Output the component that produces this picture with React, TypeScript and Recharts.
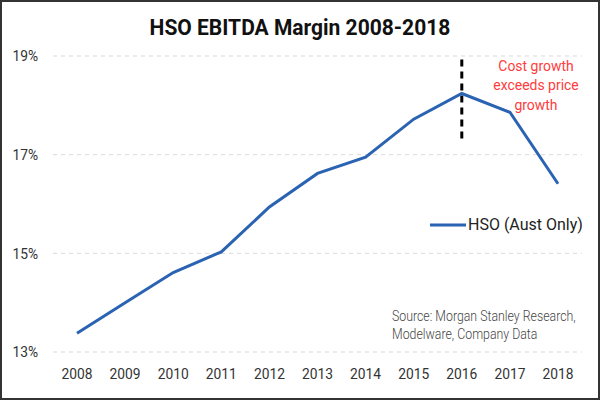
import {
  LineChart,
  Line,
  XAxis,
  YAxis,
  CartesianGrid,
  ReferenceLine,
} from "recharts";

/* ======================
 * DATA
 * ====================== */

const years = ["2008", "2009", "2010", "2011", "2012", "2013", "2014", "2015", "2016", "2017", "2018"];
const hsoMargin = [13.38, 14.0, 14.61, 15.03, 15.94, 16.62, 16.95, 17.72, 18.24, 17.86, 16.41];
const yTicks = [13, 15, 17, 19];
const annotationLines = ["Cost growth", "exceeds price", "growth"];
const sourceLines = ["Source: Morgan Stanley Research,", "Modelware, Company Data"];

const chartData = years.map((year, i) => ({ year, hso: hsoMargin[i] }));

const FONT = "Roboto, 'Noto Sans', sans-serif";
const BLUE = "#2b63b3";
const TICK_SQUEEZE = 0.92; // source image text is a bit narrow

/* ======================
 * TICKS
 * ====================== */

const XTick = ({ x, y, payload }: any) => (
  <text
    x={0}
    y={0}
    transform={`translate(${x},${y}) scale(${TICK_SQUEEZE},1)`}
    textAnchor="middle"
    dy="0.71em"
    fill="#333"
    fontSize={15}
    fontFamily={FONT}
  >
    {payload.value}
  </text>
);

const YTick = ({ x, y, payload }: any) => (
  <text
    x={0}
    y={0}
    transform={`translate(${x},${y}) scale(${TICK_SQUEEZE},1)`}
    textAnchor="end"
    dy="0.355em"
    fill="#333"
    fontSize={15}
    fontFamily={FONT}
  >
    {`${payload.value}%`}
  </text>
);

/* ======================
 * COMPONENT
 * ====================== */

const App = () => {
  return (
    <div
      style={{
        position: "fixed",
        top: 0,
        left: 0,
        width: 600,
        height: 400,
        boxSizing: "border-box",
        border: "2px solid #333",
        background: "#fff",
        fontFamily: FONT,
      }}
    >
      <div style={{ position: "absolute", left: -2, top: -2 }}>
        <LineChart
          width={600}
          height={400}
          data={chartData}
          margin={{ top: 56, right: 18, bottom: 8, left: 0 }}
        >
          <CartesianGrid vertical={false} stroke="#d9d9d9" strokeDasharray="4 4" />
          <XAxis
            dataKey="year"
            axisLine={false}
            tickLine={false}
            tickSize={0}
            tickMargin={16}
            height={40}
            interval={0}
            padding={{ left: 24, right: 24 }}
            tick={<XTick />}
          />
          <YAxis
            domain={[13, 19]}
            ticks={yTicks}
            axisLine={false}
            tickLine={false}
            tickSize={0}
            tickMargin={15}
            width={53}
            tick={<YTick />}
          />
          <ReferenceLine
            segment={[
              { x: "2016", y: 18.93 },
              { x: "2016", y: 17.3 },
            ]}
            stroke="#000"
            strokeWidth={3}
            strokeDasharray="7 5"
          />
          <Line
            type="linear"
            dataKey="hso"
            name="HSO (Aust Only)"
            stroke={BLUE}
            strokeWidth={3}
            dot={false}
            activeDot={false}
            isAnimationActive={false}
          />
        </LineChart>

        <div
          style={{
            position: "absolute",
            top: 14.5,
            left: 0,
            width: 600,
            textAlign: "center",
            fontSize: 22,
            fontWeight: 700,
            color: "#111",
            transform: "scaleX(0.955)",
            transformOrigin: "299px 0",
          }}
        >
          HSO EBITDA Margin 2008-2018
        </div>

        <div
          style={{
            position: "absolute",
            top: 215,
            left: 430,
            display: "flex",
            alignItems: "center",
            fontSize: 16,
            color: "#222",
            whiteSpace: "nowrap",
          }}
        >
          <svg width={38} height={10}>
            <line x1={0} y1={5} x2={36} y2={5} stroke={BLUE} strokeWidth={3} />
          </svg>
          <span>HSO (Aust Only)</span>
        </div>

        <div
          style={{
            position: "absolute",
            top: 56.7,
            left: 476,
            width: 120,
            textAlign: "center",
            fontSize: 15.5,
            lineHeight: "19.5px",
            color: "#ff3b3b",
            whiteSpace: "nowrap",
            transform: "scaleX(0.9)",
            transformOrigin: "60px 0",
          }}
        >
          {annotationLines.map((t) => (
            <div key={t}>{t}</div>
          ))}
        </div>

        <div
          style={{
            position: "absolute",
            top: 307,
            left: 392,
            fontSize: 14,
            fontWeight: 300,
            lineHeight: "18.3px",
            color: "#444",
            whiteSpace: "nowrap",
            transform: "scaleX(0.88)",
            transformOrigin: "0 0",
          }}
        >
          {sourceLines.map((t) => (
            <div key={t}>{t}</div>
          ))}
        </div>
      </div>
    </div>
  );
};

export default App;
